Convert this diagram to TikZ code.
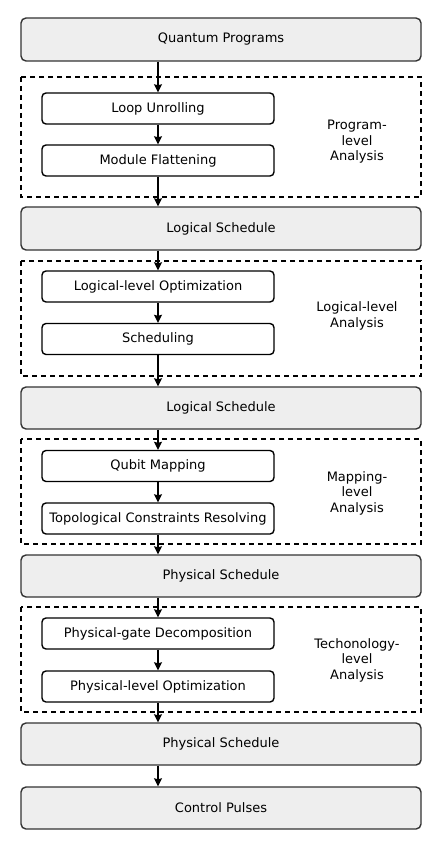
\documentclass[tikz,border=0pt]{standalone}
\usepackage{fontspec}
\setmainfont{DejaVu Sans}
\usetikzlibrary{arrows.meta}
\definecolor{bordergray}{HTML}{333333}
\definecolor{fillgray}{HTML}{EEEEEE}
\begin{document}
\begin{tikzpicture}[x=1pt,y=-1pt,
  bigbox/.style={draw=bordergray,fill=fillgray,line width=1.4pt,rounded corners=5pt},
  smallbox/.style={draw=black,fill=white,line width=1.4pt,rounded corners=4pt},
  groupbox/.style={draw=black,line width=1.4pt,dash pattern=on 5pt off 4pt},
  lbl/.style={font=\fontsize{13}{15}\selectfont},
  sidelbl/.style={font=\fontsize{13}{15.5}\selectfont,align=center},
  flow/.style={-{Stealth[length=8pt,width=8pt,inset=1pt]},line width=1.4pt,black}]
\useasboundingbox (0,0) rectangle (436,845);
% group boxes
\draw[groupbox] (21,77) rectangle (421,197);
\draw[groupbox] (21,261) rectangle (421,376);
\draw[groupbox] (21,439) rectangle (421,544);
\draw[groupbox] (21,607) rectangle (421,712);
% big boxes
\node[bigbox,lbl,minimum width=400pt,minimum height=43pt] (qp) at (221,39.5) {Quantum Programs};
\node[bigbox,lbl,minimum width=400pt,minimum height=43pt] (ls1) at (221,228.5) {Logical Schedule};
\node[bigbox,lbl,minimum width=400pt,minimum height=42pt] (ls2) at (221,408) {Logical Schedule};
\node[bigbox,lbl,minimum width=400pt,minimum height=42pt] (ps1) at (221,576) {Physical Schedule};
\node[bigbox,lbl,minimum width=400pt,minimum height=42pt] (ps2) at (221,744) {Physical Schedule};
\node[bigbox,lbl,minimum width=400pt,minimum height=42pt] (cp) at (221,808) {Control Pulses};
% small boxes
\node[smallbox,lbl,minimum width=232pt,minimum height=31pt] (lu) at (158,108.5) {Loop Unrolling};
\node[smallbox,lbl,minimum width=232pt,minimum height=31pt] (mf) at (158,160.5) {Module Flattening};
\node[smallbox,lbl,minimum width=232pt,minimum height=31pt] (llo) at (158,286.5) {Logical-level Optimization};
\node[smallbox,lbl,minimum width=232pt,minimum height=31pt] (sch) at (158,339) {Scheduling};
\node[smallbox,lbl,minimum width=232pt,minimum height=31pt] (qm) at (158,466) {Qubit Mapping};
\node[smallbox,lbl,minimum width=232pt,minimum height=31pt] (tcr) at (158,518.5) {Topological Constraints Resolving};
\node[smallbox,lbl,minimum width=232pt,minimum height=31pt] (pgd) at (158,633.5) {Physical-gate Decomposition};
\node[smallbox,lbl,minimum width=232pt,minimum height=31pt] (plo) at (158,686.5) {Physical-level Optimization};
% side labels
\node[sidelbl] (g1) at (357,142) {Program-\\level\\Analysis};
\node[sidelbl] (g2) at (357,316) {Logical-level\\Analysis};
\node[sidelbl] (g3) at (357,493) {Mapping-\\level\\Analysis};
\node[sidelbl] (g4) at (357,660) {Techonology-\\level\\Analysis};
% arrow end points
\coordinate (ps2out) at (plo.south |- ps2.south);
\coordinate (cpin) at (plo.south |- cp.north);
% arrows
\draw[flow] (qp.south -| lu.north) -- (lu.north);
\draw[flow] (lu) -- (mf);
\draw[flow] (mf.south) -- (mf.south |- ls1.north);
\draw[flow] (ls1.south -| llo.north) -- (llo.north);
\draw[flow] (llo) -- (sch);
\draw[flow] (sch.south) -- (sch.south |- ls2.north);
\draw[flow] (ls2.south -| qm.north) -- (qm.north);
\draw[flow] (qm) -- (tcr);
\draw[flow] (tcr.south) -- (tcr.south |- ps1.north);
\draw[flow] (ps1.south -| pgd.north) -- (pgd.north);
\draw[flow] (pgd) -- (plo);
\draw[flow] (plo.south) -- (plo.south |- ps2.north);
\draw[flow] (ps2out) -- (cpin);
\end{tikzpicture}
\end{document}
